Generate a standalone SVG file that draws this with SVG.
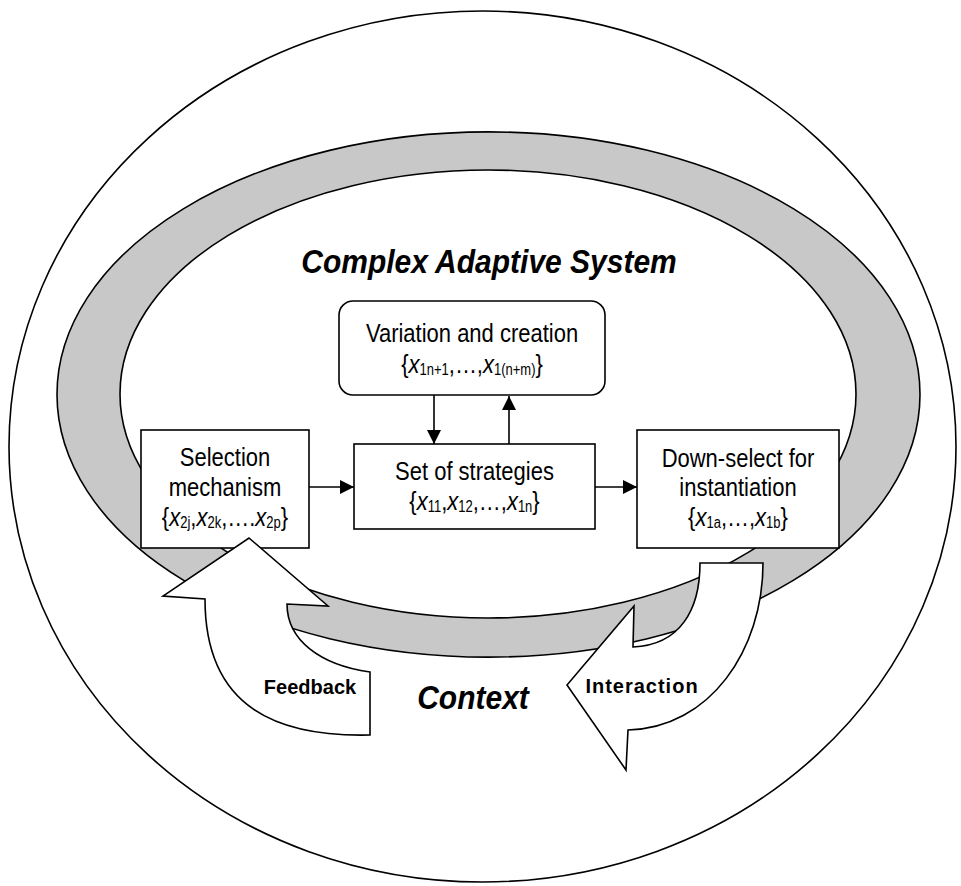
<svg xmlns="http://www.w3.org/2000/svg" width="961" height="886" viewBox="0 0 961 886">
  <defs>
    <style>
      .ln { fill: none; stroke: #000; stroke-width: 1.6; }
      .box { fill: #fff; stroke: #000; stroke-width: 1.6; }
      .big { fill: #fff; stroke: #000; stroke-width: 1.6; stroke-linejoin: miter; }
      .t { font-family: "Liberation Sans", Arial, sans-serif; font-size: 22px; text-anchor: middle; fill: #000; }
      .s { font-size: 13px; }
      .i { font-style: italic; }
      .title { font-family: "Liberation Sans", Arial, sans-serif; font-size: 30px; font-weight: bold; font-style: italic; text-anchor: middle; fill: #000; }
      .lab { font-family: "Liberation Sans", Arial, sans-serif; font-size: 20px; font-weight: bold; text-anchor: middle; fill: #000; }
    </style>
    <marker id="ah" viewBox="0 0 14 14" refX="14" refY="7" markerWidth="14" markerHeight="14" markerUnits="userSpaceOnUse" orient="auto">
      <path d="M0,0 L14,7 L0,14 Z" fill="#000"/>
    </marker>
  </defs>

  <rect x="0" y="0" width="961" height="886" fill="#fff"/>

  <g id="context">
    <ellipse cx="482.5" cy="446.5" rx="473.5" ry="435.5" fill="#fff" stroke="#000" stroke-width="1.6"/>
  </g>

  <g id="cas-ring">
    <path d="M57,394.5 A431.5,262.5 0 1,0 920,394.5 A431.5,262.5 0 1,0 57,394.5 Z M120,394 A368,224 0 1,0 856,394 A368,224 0 1,0 120,394 Z" fill="#c8c8c8" fill-rule="evenodd" stroke="#000" stroke-width="1.6"/>
  </g>

  <g id="title-cas">
    <text class="title" transform="translate(489 273) scale(1 1.1)" x="0" y="0">Complex Adaptive System</text>
  </g>

  <g id="variation">
    <rect class="box" x="339" y="301" width="266" height="94" rx="14" ry="14"/>
    <text class="t" transform="translate(472 342) scale(1 1.2)" x="0" y="0">Variation and creation</text>
    <text class="t" transform="translate(472 373) scale(1 1.2)" x="0" y="0">{<tspan class="i">x</tspan><tspan class="s" dy="1.5">1n+1</tspan><tspan dy="-1.5">,…,</tspan><tspan class="i">x</tspan><tspan class="s" dy="1.5">1(n+m)</tspan><tspan dy="-1.5">}</tspan></text>
  </g>

  <g id="selection">
    <rect class="box" x="141" y="430" width="168" height="118"/>
    <text class="t" transform="translate(225 466) scale(1 1.2)" x="0" y="0">Selection</text>
    <text class="t" transform="translate(225 496) scale(1 1.2)" x="0" y="0">mechanism</text>
    <text class="t" transform="translate(225 526) scale(1 1.2)" x="0" y="0">{<tspan class="i">x</tspan><tspan class="s" dy="1.5">2j</tspan><tspan dy="-1.5">,</tspan><tspan class="i">x</tspan><tspan class="s" dy="1.5">2k</tspan><tspan dy="-1.5">,….</tspan><tspan class="i">x</tspan><tspan class="s" dy="1.5">2p</tspan><tspan dy="-1.5">}</tspan></text>
  </g>

  <g id="strategies">
    <rect class="box" x="354" y="444" width="241" height="85"/>
    <text class="t" transform="translate(474.5 480) scale(1 1.2)" x="0" y="0">Set of strategies</text>
    <text class="t" transform="translate(474.5 510) scale(1 1.2)" x="0" y="0">{<tspan class="i">x</tspan><tspan class="s" dy="1.5">11</tspan><tspan dy="-1.5">,</tspan><tspan class="i">x</tspan><tspan class="s" dy="1.5">12</tspan><tspan dy="-1.5">,…,</tspan><tspan class="i">x</tspan><tspan class="s" dy="1.5">1n</tspan><tspan dy="-1.5">}</tspan></text>
  </g>

  <g id="downselect">
    <rect class="box" x="637" y="430" width="202" height="118"/>
    <text class="t" transform="translate(738 467) scale(1 1.2)" x="0" y="0">Down-select for</text>
    <text class="t" transform="translate(738 496) scale(1 1.2)" x="0" y="0">instantiation</text>
    <text class="t" transform="translate(738 526) scale(1 1.2)" x="0" y="0">{<tspan class="i">x</tspan><tspan class="s" dy="1.5">1a</tspan><tspan dy="-1.5">,…,</tspan><tspan class="i">x</tspan><tspan class="s" dy="1.5">1b</tspan><tspan dy="-1.5">}</tspan></text>
  </g>

  <g id="connectors">
    <line class="ln" x1="434" y1="395" x2="434" y2="444" marker-end="url(#ah)"/>
    <line class="ln" x1="509" y1="444" x2="509" y2="396" marker-end="url(#ah)"/>
    <line class="ln" x1="309" y1="487" x2="354" y2="487" marker-end="url(#ah)"/>
    <line class="ln" x1="595" y1="487" x2="637" y2="487" marker-end="url(#ah)"/>
  </g>

  <g id="feedback">
    <path class="big" d="M249,538 L328,606 L287,604 C287,640 320,665 370,672 L370,735 C280,737 205,710 205,599 L163,596 Z"/>
    <text class="lab" x="310" y="694">Feedback</text>
  </g>

  <g id="interaction">
    <path class="big" d="M700,563 L763,563 C763,650 710,728 628,730 L626,770 L567,685 L634,606 L633,647 C680,645 700,610 700,563 Z"/>
    <text class="lab" x="642" y="693" letter-spacing="1">Interaction</text>
  </g>

  <g id="title-context">
    <text class="title" transform="translate(473 709) scale(1 1.1)" x="0" y="0">Context</text>
  </g>
</svg>
